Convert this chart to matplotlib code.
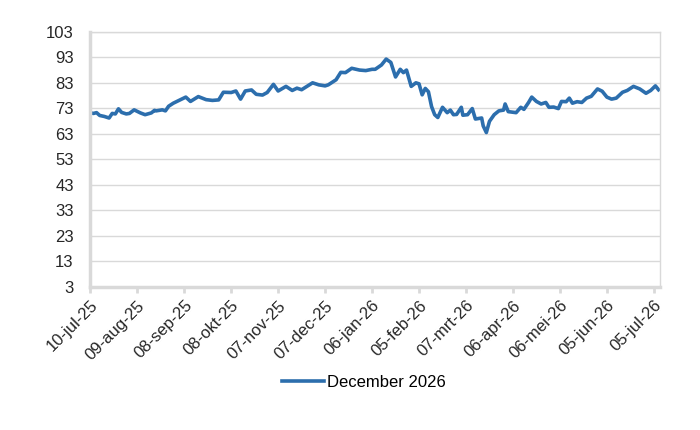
import datetime as dt

import matplotlib
matplotlib.use("Agg")
import matplotlib.pyplot as plt

# data
start = dt.date(2025, 7, 10)
days = [0, 2, 4, 6, 9, 12, 14, 16, 18, 20, 23, 25, 28, 30, 32, 35, 39, 41, 42, 46,
        48, 50, 53, 57, 61, 64, 69, 74, 78, 82, 85, 90, 93, 96, 99, 103, 106, 110, 113, 117,
        120, 125, 129, 132, 135, 142, 146, 150, 152, 157, 160, 163, 167, 172, 176, 180, 182, 186, 189, 192,
        195, 198, 200, 202, 205, 208, 210, 212, 214, 216, 218, 220, 222, 225, 228, 230, 232, 234, 237, 238,
        241, 244, 246, 250, 251, 253, 255, 258, 261, 264, 265, 267, 272, 275, 277, 280, 282, 285, 288, 291,
        293, 296, 299, 301, 304, 306, 308, 311, 314, 317, 320, 324, 327, 330, 333, 336, 340, 343, 347, 351,
        355, 358, 361, 363]
values = [71.2, 71.0, 71.3, 70.2, 69.8, 69.2, 71.0, 70.8, 72.8, 71.4, 70.8, 71.0, 72.4, 71.8, 71.2, 70.5, 71.2, 72.2, 72.0, 72.4,
          72.0, 73.8, 75.0, 76.2, 77.4, 75.7, 77.6, 76.4, 76.1, 76.3, 79.3, 79.2, 79.8, 76.6, 79.8, 80.2, 78.5, 78.2, 79.2, 82.4,
          79.8, 81.6, 80.0, 80.9, 80.3, 83.0, 82.2, 81.8, 82.2, 84.2, 87.1, 87.0, 88.7, 88.0, 87.8, 88.3, 88.3, 90.0, 92.3, 91.0,
          85.3, 88.3, 87.0, 88.0, 81.6, 83.0, 82.6, 78.3, 80.8, 79.5, 73.7, 70.5, 69.4, 73.4, 71.3, 72.3, 70.5, 70.6, 73.4, 70.3,
          70.5, 72.9, 68.8, 69.2, 66.1, 63.5, 67.9, 70.5, 72.0, 72.3, 74.7, 71.7, 71.3, 73.4, 72.6, 75.3, 77.4, 75.7, 74.7, 75.3,
          73.4, 73.5, 72.9, 75.7, 75.6, 77.0, 75.0, 75.6, 75.3, 77.0, 77.7, 80.6, 79.7, 77.4, 76.6, 77.0, 79.3, 80.0, 81.6, 80.6,
          78.9, 80.0, 81.8, 80.3]
series_name = "December 2026"
tick_days = [0, 30, 60, 90, 120, 150, 180, 210, 240, 270, 300, 330, 360]
tick_labels = ["10-jul-25", "09-aug-25", "08-sep-25", "08-okt-25", "07-nov-25", "07-dec-25", "06-jan-26",
               "05-feb-26", "07-mrt-26", "06-apr-26", "06-mei-26", "05-jun-26", "05-jul-26"]
y_ticks = [3, 13, 23, 33, 43, 53, 63, 73, 83, 93, 103]

plt.rcParams["font.family"] = ["Liberation Sans", "DejaVu Sans"]

dates = [start + dt.timedelta(days=d) for d in days]
tick_dates = [start + dt.timedelta(days=d) for d in tick_days]

fig = plt.figure(figsize=(7, 4.3), dpi=100)
ax = fig.add_axes([0.129, 0.333, 0.814, 0.593])

ax.plot(dates, values, color="#2C6EAD", lw=2.6, label=series_name, solid_joinstyle="round")

ax.set_ylim(3, 103)
ax.set_yticks(y_ticks)
ax.set_xlim(start, start + dt.timedelta(days=364))
ax.set_xticks(tick_dates)
ax.set_xticklabels(tick_labels, rotation=45, ha="right", rotation_mode="anchor")

ax.grid(axis="y", color="#d9d9d9", lw=1)
ax.set_axisbelow(True)
for side in ["top", "right"]:
    ax.spines[side].set_color("#d9d9d9")
    ax.spines[side].set_linewidth(1)
ax.spines["left"].set_color("#d9d9d9")
ax.spines["left"].set_linewidth(2.5)
ax.spines["bottom"].set_color("#d9d9d9")
ax.spines["bottom"].set_linewidth(2.5)

ax.tick_params(axis="y", length=0, pad=12, labelsize=12, labelcolor="#262626")
ax.tick_params(axis="x", length=4, width=2, color="#d9d9d9", pad=4, labelsize=12, labelcolor="#262626")

fig.legend(loc="center", bbox_to_anchor=(0.52, 0.11), frameon=False, fontsize=12,
           handlelength=2.5, handletextpad=0.2)

plt.savefig("out.png", dpi=100)
